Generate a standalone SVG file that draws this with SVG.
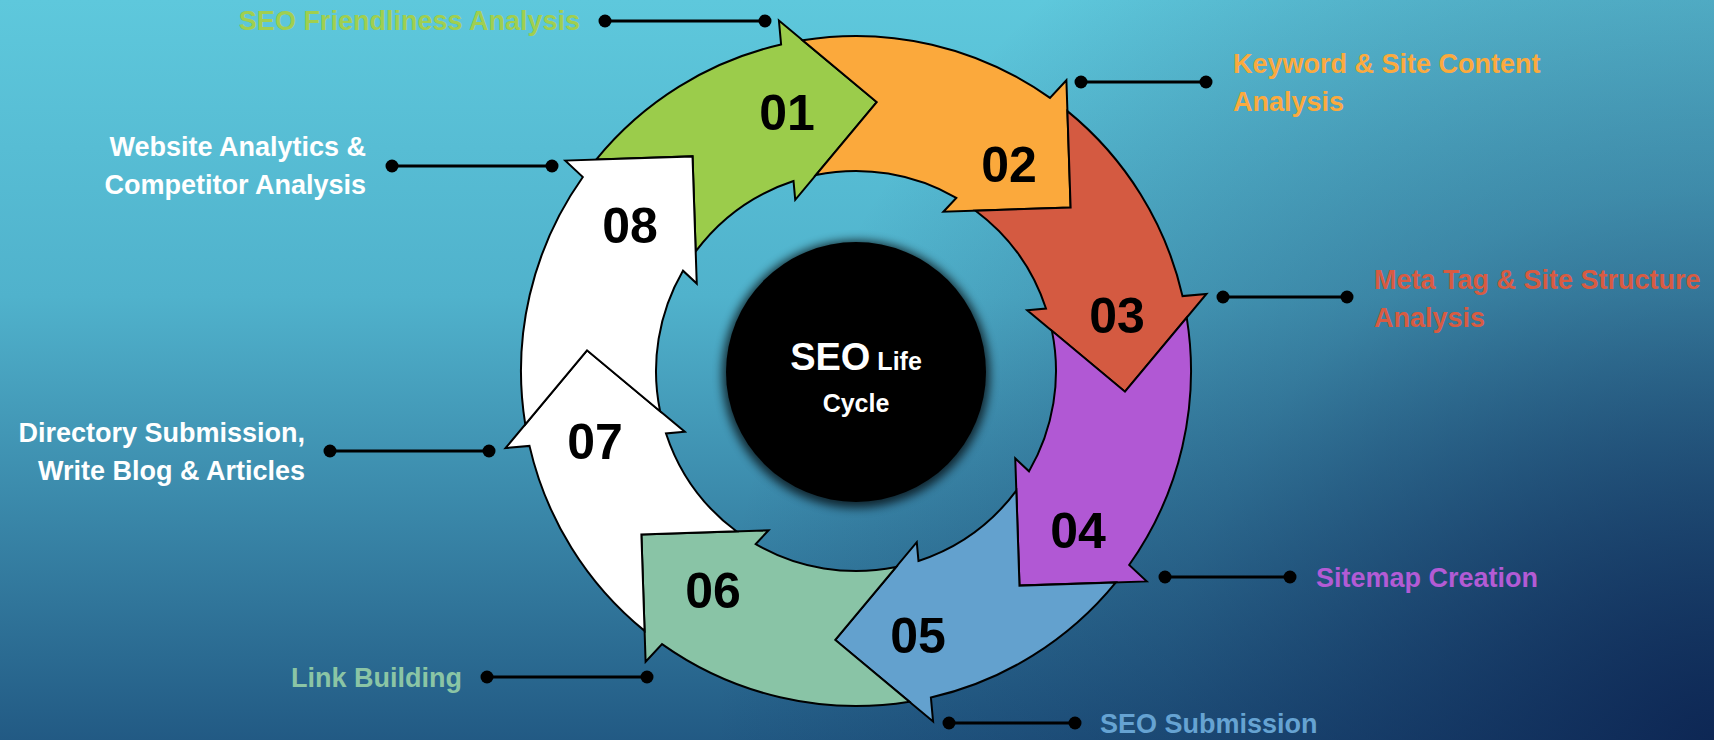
<svg xmlns="http://www.w3.org/2000/svg" width="1714" height="740" viewBox="0 0 1714 740">
<defs>
  <linearGradient id="bg" x1="0" y1="0" x2="0" y2="1">
    <stop offset="0" stop-color="#5EC8DC"/>
    <stop offset="0.4" stop-color="#50B2CC"/>
    <stop offset="1" stop-color="#225A84"/>
  </linearGradient>
  <radialGradient id="shade" gradientUnits="userSpaceOnUse" cx="1714" cy="740" r="1000">
    <stop offset="0" stop-color="#0A1E4C" stop-opacity="0.85"/>
    <stop offset="0.55" stop-color="#0A1E4C" stop-opacity="0.3"/>
    <stop offset="1" stop-color="#0A1E4C" stop-opacity="0"/>
  </radialGradient>
  <filter id="glow" x="-30%" y="-30%" width="160%" height="160%">
    <feGaussianBlur stdDeviation="5"/>
  </filter>
  <path id="odd" class="arrow" d="M596.14,159.59 A335,335 0 0 1 781.10,44.48 L778.92,20.55 L876.71,102.02 L795.23,199.80 L793.52,181.01 A200,200 0 0 0 695.68,251.43 L692.52,156.39 Z"/>
  <path id="even" class="arrow" d="M802.61,40.28 A335,335 0 0 1 1049.97,97.86 L1066.39,80.32 L1070.61,207.52 L943.40,211.75 L956.29,197.96 A200,200 0 0 0 815.84,175.07 L876.71,102.02 Z"/>
</defs>
<style>
  .arrow { stroke: #000; stroke-width: 2; stroke-linejoin: miter; }
  .num { font-family: "Liberation Sans", Arial, sans-serif; font-weight: 700; font-size: 50px; fill: #000; text-anchor: middle; }
  .lbl { font-family: "Liberation Sans", Arial, sans-serif; font-weight: 700; font-size: 27px; }
  .end { text-anchor: end; }
  .dot { fill: #000; }
  .line { stroke: #000; stroke-width: 3; }
  .center { font-family: "Liberation Sans", Arial, sans-serif; font-weight: 700; fill: #fff; text-anchor: middle; }
</style>

<rect x="0" y="0" width="1714" height="740" fill="url(#bg)"/>
<rect x="0" y="0" width="1714" height="740" fill="url(#shade)"/>

<g id="hub">
  <circle cx="856" cy="374" r="134" fill="#000" opacity="0.7" filter="url(#glow)"/>
  <circle cx="856" cy="372" r="130" fill="#000"/>
  <text class="center" x="856" y="370"><tspan font-size="38px">SEO</tspan><tspan font-size="25px"> Life</tspan></text>
  <text class="center" x="856" y="412" font-size="25px">Cycle</text>
</g>

<g id="step-01">
  <use href="#odd" fill="#9BCC4B"/>
  <text class="num" x="787" y="130">01</text>
  <text class="lbl end" x="580" y="30" fill="#A0CF4F">SEO Friendliness Analysis</text>
</g>
<g id="step-02">
  <use href="#even" fill="#FBA93C"/>
  <text class="num" x="1009" y="182">02</text>
  <text class="lbl" x="1233" y="73" fill="#FBAA3E">Keyword &amp; Site Content</text>
  <text class="lbl" x="1233" y="111" fill="#FBAA3E">Analysis</text>
</g>
<g id="step-03">
  <use href="#odd" fill="#D45A41" transform="rotate(90 856 371)"/>
  <text class="num" x="1117" y="333">03</text>
  <text class="lbl" x="1374" y="289" fill="#D85B42">Meta Tag &amp; Site Structure</text>
  <text class="lbl" x="1374" y="327" fill="#D85B42">Analysis</text>
</g>
<g id="step-04">
  <use href="#even" fill="#B158D4" transform="rotate(90 856 371)"/>
  <text class="num" x="1078" y="548">04</text>
  <text class="lbl" x="1316" y="587" fill="#B35BD5">Sitemap Creation</text>
</g>
<g id="step-05">
  <use href="#odd" fill="#63A1CE" transform="rotate(180 856 371)"/>
  <text class="num" x="918" y="653">05</text>
  <text class="lbl" x="1100" y="733" fill="#66A3D2">SEO Submission</text>
</g>
<g id="step-06">
  <use href="#even" fill="#89C4A6" transform="rotate(180 856 371)"/>
  <text class="num" x="713" y="608">06</text>
  <text class="lbl end" x="462" y="687" fill="#8BC5A5">Link Building</text>
</g>
<g id="step-07">
  <use href="#odd" fill="#FFFFFF" transform="rotate(270 856 371)"/>
  <text class="num" x="595" y="459">07</text>
  <text class="lbl end" x="305" y="442" fill="#FFFFFF">Directory Submission,</text>
  <text class="lbl end" x="305" y="480" fill="#FFFFFF">Write Blog &amp; Articles</text>
</g>
<g id="step-08">
  <use href="#even" fill="#FFFFFF" transform="rotate(270 856 371)"/>
  <text class="num" x="630" y="243">08</text>
  <text class="lbl end" x="366" y="156" fill="#FFFFFF">Website Analytics &amp;</text>
  <text class="lbl end" x="366" y="194" fill="#FFFFFF">Competitor Analysis</text>
</g>

<g id="connectors">
  <line class="line" x1="605" y1="21" x2="765" y2="21"/>
  <circle class="dot" cx="605" cy="21" r="6.5"/><circle class="dot" cx="765" cy="21" r="6.5"/>
  <line class="line" x1="1081" y1="82" x2="1206" y2="82"/>
  <circle class="dot" cx="1081" cy="82" r="6.5"/><circle class="dot" cx="1206" cy="82" r="6.5"/>
  <line class="line" x1="1223" y1="297" x2="1347" y2="297"/>
  <circle class="dot" cx="1223" cy="297" r="6.5"/><circle class="dot" cx="1347" cy="297" r="6.5"/>
  <line class="line" x1="1165" y1="577" x2="1290" y2="577"/>
  <circle class="dot" cx="1165" cy="577" r="6.5"/><circle class="dot" cx="1290" cy="577" r="6.5"/>
  <line class="line" x1="949" y1="723" x2="1075" y2="723"/>
  <circle class="dot" cx="949" cy="723" r="6.5"/><circle class="dot" cx="1075" cy="723" r="6.5"/>
  <line class="line" x1="487" y1="677" x2="647" y2="677"/>
  <circle class="dot" cx="487" cy="677" r="6.5"/><circle class="dot" cx="647" cy="677" r="6.5"/>
  <line class="line" x1="330" y1="451" x2="489" y2="451"/>
  <circle class="dot" cx="330" cy="451" r="6.5"/><circle class="dot" cx="489" cy="451" r="6.5"/>
  <line class="line" x1="392" y1="166" x2="552" y2="166"/>
  <circle class="dot" cx="392" cy="166" r="6.5"/><circle class="dot" cx="552" cy="166" r="6.5"/>
</g>
</svg>
